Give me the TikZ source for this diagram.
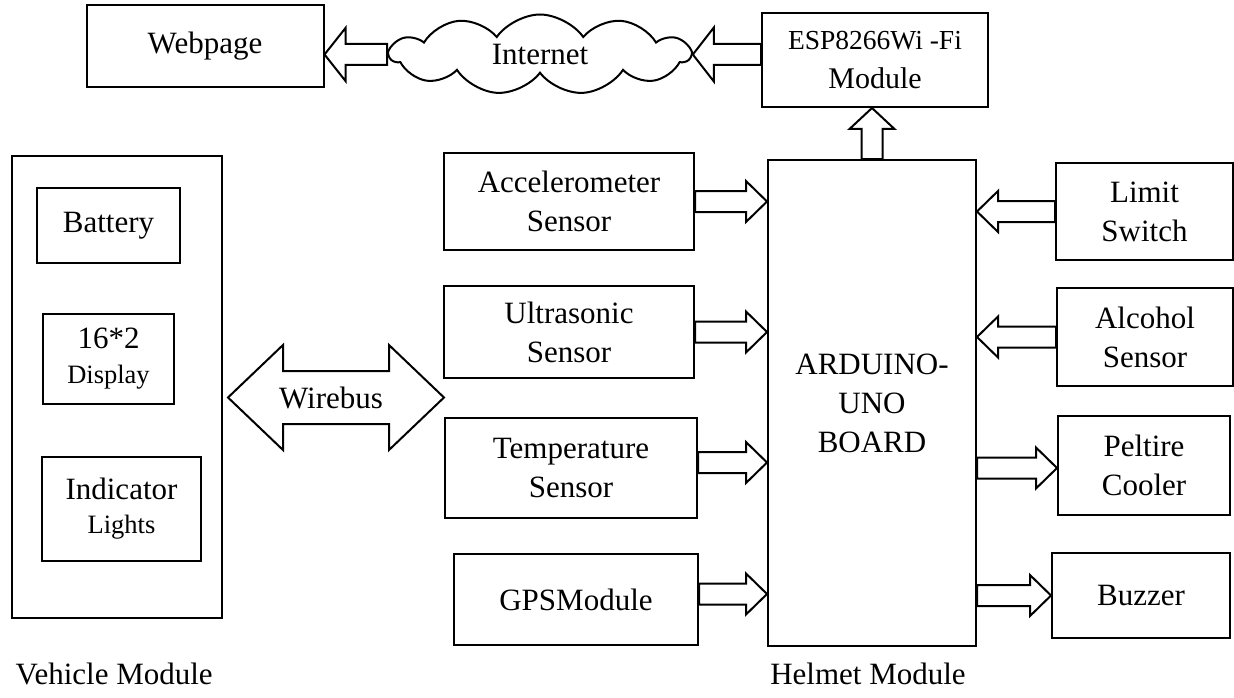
\documentclass[tikz,border=0pt]{standalone}
\usepackage{fontspec}
\setmainfont{Liberation Serif}
\usetikzlibrary{calc,shapes.symbols}

% hollow block arrow from #2 to #3, #1 = half width of the head
\newcommand{\fatarrow}[3][20.5pt]{%
	\path (#2) coordinate (fa-s) (#3) coordinate (fa-e) ($(fa-e)!21pt!(fa-s)$) coordinate (fa-h);
	\draw[fat] ($(fa-s)!10.5pt!90:(fa-e)$) -- ($(fa-h)!10.5pt!90:(fa-e)$) -- ($(fa-h)!#1!90:(fa-e)$) -- (fa-e)
		-- ($(fa-h)!#1!-90:(fa-e)$) -- ($(fa-h)!10.5pt!-90:(fa-e)$) -- ($(fa-s)!10.5pt!-90:(fa-e)$) -- cycle;}

\begin{document}
\begin{tikzpicture}[x=1pt,y=-1pt,
	box/.style={draw,line width=2pt,inner sep=0pt,align=center,font=\fontsize{31}{39}\selectfont},
	label/.style={font=\fontsize{31}{39}\selectfont},
	fat/.style={draw,line width=2pt,line join=miter}]
	\useasboundingbox (0,0) rectangle (1234,698);

	% top row
	\node[box,minimum width=237pt,minimum height=82pt] (web) at (205,46) {Webpage};
	\node[draw,line width=2pt,cloud,cloud puffs=11,cloud puff arc=110,cloud ignores aspect,
		minimum width=300pt,minimum height=80pt,label] (net) at (540,54.5) {Internet};
	\node[box,minimum width=226pt,minimum height=94pt,font=\fontsize{27.5}{39}\selectfont] (esp) at (875,60) {ESP8266Wi -Fi\\{\fontsize{30}{39}\selectfont Module}};

	% vehicle module
	\node[box,minimum width=210pt,minimum height=462pt] (veh) at (117,387) {};
	\node[box,minimum width=143pt,minimum height=75pt] (bat) at (108.5,225.5) {Battery};
	\node[box,minimum width=131pt,minimum height=90pt] (disp) at (108.5,359) {16*2\\[-4pt]{\fontsize{26.5}{34}\selectfont Display}};
	\node[box,minimum width=159pt,minimum height=104pt] (ind) at (121.5,509) {Indicator\\[-5pt]{\fontsize{26.5}{34}\selectfont Lights}};
	\node[label,anchor=base west] (vname) at (12,684) {Vehicle Module};

	% wire bus
	\node[label] (bus) at (331,397.5) {Wirebus};
	\draw[fat] ([xshift=-103pt]bus.center) -- ++(55pt,52.5pt) -- ++(0,-26pt) -- ++(106pt,0) -- ++(0,26pt)
		-- ++(55pt,-52.5pt) -- ++(-55pt,-52.5pt) -- ++(0,26pt) -- ++(-106pt,0) -- ++(0,-26pt) -- cycle;

	% helmet module
	\node[box,minimum width=250pt,minimum height=97pt] (acc) at (569,201.5) {Accelerometer\\Sensor};
	\node[box,minimum width=250pt,minimum height=92pt] (ultra) at (569,332) {Ultrasonic\\Sensor};
	\node[box,minimum width=252pt,minimum height=100pt] (temp) at (571,468) {Temperature\\Sensor};
	\node[box,minimum width=244pt,minimum height=91pt] (gps) at (576,599.5) {GPSModule};
	\node[box,minimum width=208pt,minimum height=486pt] (ard) at (872,403) {ARDUINO-\\UNO\\BOARD};
	\node[box,minimum width=177pt,minimum height=97pt] (limit) at (1144.5,211.5) {Limit\\Switch};
	\node[box,minimum width=176pt,minimum height=98pt] (alc) at (1145,337) {Alcohol\\Sensor};
	\node[box,minimum width=172pt,minimum height=99pt] (pelt) at (1144,465.5) {Peltire\\Cooler};
	\node[box,minimum width=178pt,minimum height=85pt] (buzz) at (1141,595.5) {Buzzer};
	\node[label,anchor=base] (hname) at (868,684) {Helmet Module};

	% arrows
	\fatarrow{acc.east}{acc.east -| ard.west}
	\fatarrow{ultra.east}{ultra.east -| ard.west}
	\fatarrow{$(temp.east)+(0,5.5pt)$}{$(temp.east -| ard.west)+(0,5.5pt)$}
	\fatarrow{$(gps.east)+(0,5.5pt)$}{$(gps.east -| ard.west)+(0,5.5pt)$}
	\fatarrow{limit.west}{limit.west -| ard.east}
	\fatarrow{alc.west}{alc.west -| ard.east}
	\fatarrow{$(ard.east |- pelt.west)+(0,-2.5pt)$}{$(pelt.west)+(0,-2.5pt)$}
	\fatarrow{ard.east |- buzz.west}{buzz.west}
	\fatarrow[22.5pt]{ard.north}{ard.north |- esp.south}
	\fatarrow[27pt]{net.east -| esp.west}{net.east}
	\fatarrow[26.5pt]{net.west}{net.west -| web.east}
\end{tikzpicture}
\end{document}
